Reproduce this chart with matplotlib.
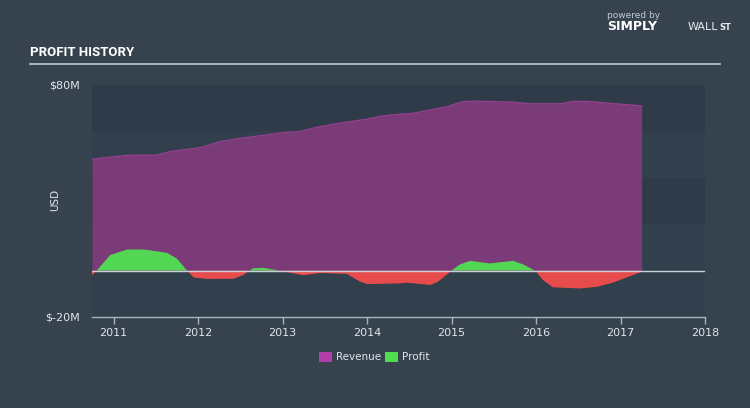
import matplotlib
matplotlib.use("Agg")
import matplotlib.pyplot as plt
from matplotlib.patches import Rectangle

# ---- data (fractional years, USD millions) ----
rev_t = [2010.745, 2011.16, 2011.51, 2011.67, 2012.03, 2012.26, 2012.50, 2012.82,
         2013.0, 2013.2, 2013.41, 2013.60, 2014.0, 2014.19, 2014.39, 2014.55,
         2014.95, 2015.14, 2015.34, 2015.73, 2015.93, 2016.29, 2016.44, 2016.61,
         2016.91, 2017.25]
revenue = [48.0, 49.7, 49.8, 51.3, 53.0, 55.6, 57.0, 58.5,
           59.5, 59.9, 61.8, 63.1, 65.3, 66.7, 67.4, 67.8,
           70.7, 72.9, 73.0, 72.6, 71.9, 71.9, 72.9, 72.9,
           72.0, 71.0]

prof_t = [2010.745, 2010.80, 2010.96, 2011.16, 2011.36, 2011.63, 2011.75, 2011.87,
          2011.95, 2012.11, 2012.42, 2012.53, 2012.65, 2012.77, 2012.97, 2013.13,
          2013.25, 2013.45, 2013.76, 2013.92, 2014.0, 2014.39, 2014.47, 2014.75,
          2014.84, 2015.0, 2015.1, 2015.22, 2015.45, 2015.73, 2015.84, 2015.99,
          2016.08, 2016.2, 2016.52, 2016.72, 2016.91, 2017.25]
profit = [-2.0, 0.0, 6.7, 9.1, 9.1, 7.7, 5.2, 0.0,
          -3.0, -3.6, -3.5, -2.0, 1.0, 1.2, 0.0, -1.2,
          -2.0, -1.0, -1.4, -4.8, -5.8, -5.5, -5.2, -6.2,
          -4.8, 0.0, 2.7, 4.2, 3.1, 4.2, 2.8, 0.0,
          -4.0, -7.2, -7.7, -7.0, -5.2, -0.5]

year_ticks = [2011, 2012, 2013, 2014, 2015, 2016, 2017, 2018]
y_ticks = [-20, 80]
y_tick_labels = ["$-20M", "$80M"]

# ---- style ----
FIG_BG = "#36434f"
BAND_LIGHT = "#323f4c"
BAND_DARK = "#2f3b48"
REV_C = "#7b3a78"
REV_EDGE = "#93408f"
GREEN = "#52d653"
RED = "#e84b4b"
TXT = "#dfe5ea"

fig = plt.figure(figsize=(7.5, 4.08), dpi=100, facecolor=FIG_BG)
ax = fig.add_axes([92 / 750, (408 - 317) / 408, 613 / 750, 232 / 408])
ax.set_facecolor(BAND_LIGHT)
xmin, xmax = 2010.745, 2018.0
ax.set_xlim(xmin, xmax)
ax.set_ylim(-20, 80)

band_cols = [BAND_LIGHT, BAND_LIGHT, BAND_DARK, BAND_LIGHT, BAND_DARK]
for lo, c in zip(range(-20, 80, 20), band_cols):
    ax.add_patch(Rectangle((xmin, lo), xmax - xmin, 20, facecolor=c,
                           edgecolor="none", zorder=0))

ax.fill_between(rev_t, 0, revenue, color=REV_C, lw=0, zorder=2)
ax.plot(rev_t, revenue, color=REV_EDGE, lw=1.0, zorder=3)

ax.fill_between(prof_t, 0, profit, where=[p >= 0 for p in profit],
                interpolate=True, color=GREEN, lw=0, zorder=4)
ax.fill_between(prof_t, 0, profit, where=[p <= 0 for p in profit],
                interpolate=True, color=RED, lw=0, zorder=4)

ax.plot([xmin, xmax], [0, 0], color="#c9d1d8", lw=1.0, zorder=5)

for s in ["top", "right", "left"]:
    ax.spines[s].set_visible(False)
ax.spines["bottom"].set_color("#aab4be")
ax.spines["bottom"].set_linewidth(1.0)

ax.set_xticks(year_ticks)
ax.set_xticklabels([str(y) for y in year_ticks], color=TXT, fontsize=8)
ax.tick_params(axis="x", colors="#aab4be", length=5, width=1, pad=3, labelcolor=TXT)
ax.set_yticks(y_ticks)
ax.set_yticklabels(y_tick_labels, color=TXT, fontsize=8)
ax.tick_params(axis="y", length=0, pad=9, labelcolor=TXT)

fig.text(55 / 750, 1 - 200 / 408, "USD", rotation=90, color=TXT, fontsize=7.5,
         ha="center", va="center")

# title and rule
fig.text(30 / 750, 1 - 52 / 408, "PROFIT HISTORY", color="white", fontsize=9.5,
         fontweight="bold", family="Roboto", ha="left", va="center")
fig.add_artist(plt.Line2D([30 / 750, 720 / 750], [1 - 63.5 / 408, 1 - 63.5 / 408],
                          color="#b9cad8", lw=1.2))

# logo text
fig.text(607 / 750, 1 - 15 / 408, "powered by", color="#c0c8d0", fontsize=6.5,
         ha="left", va="center")
fig.text(607 / 750, 1 - 27 / 408, "SIMPLY", color="white", fontsize=9,
         fontweight="bold", ha="left", va="center")
fig.text(688 / 750, 1 - 27 / 408, "WALL", color="#e6ebef", fontsize=8,
         ha="left", va="center")
fig.text(719 / 750, 1 - 27.5 / 408, "ST", color="#e6ebef", fontsize=6,
         fontweight="bold", ha="left", va="center")

# legend
ly = 1 - 357 / 408
fig.add_artist(Rectangle((319 / 750, ly - 5 / 408), 13 / 750, 10 / 408,
                         facecolor="#b23ea9", edgecolor="none",
                         transform=fig.transFigure))
fig.text(336 / 750, ly, "Revenue", color=TXT, fontsize=7.5, ha="left", va="center")
fig.add_artist(Rectangle((385 / 750, ly - 5 / 408), 13 / 750, 10 / 408,
                         facecolor="#4fdc4f", edgecolor="none",
                         transform=fig.transFigure))
fig.text(402 / 750, ly, "Profit", color=TXT, fontsize=7.5, ha="left", va="center")

fig.savefig("out.png", dpi=100, facecolor=FIG_BG)
